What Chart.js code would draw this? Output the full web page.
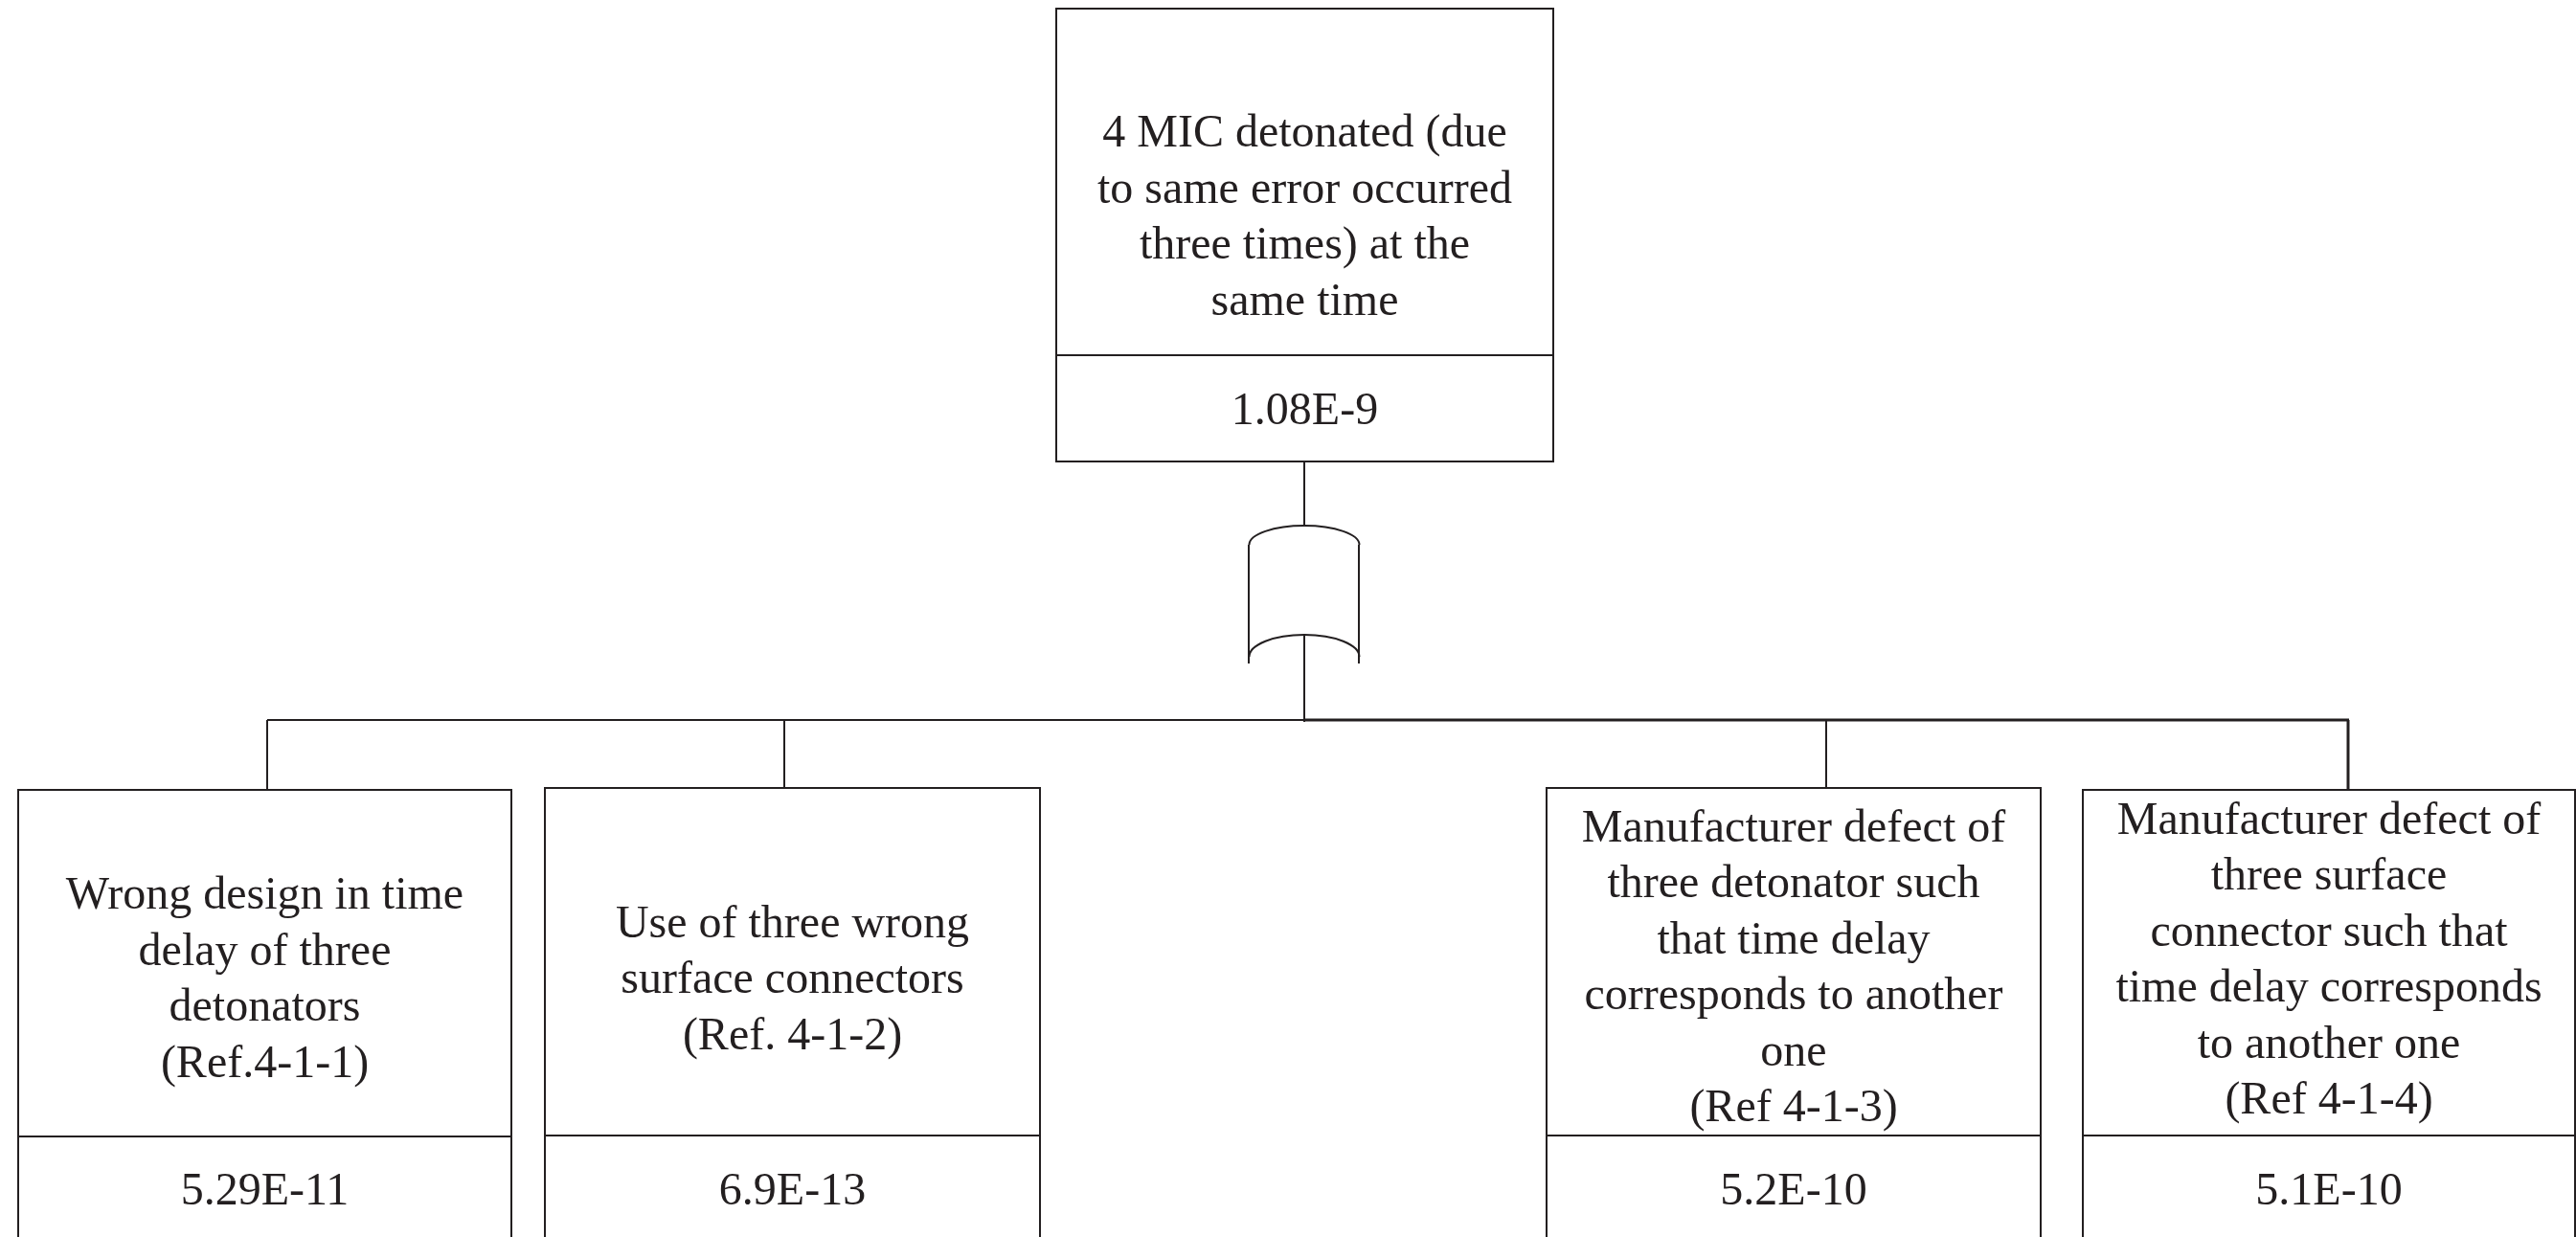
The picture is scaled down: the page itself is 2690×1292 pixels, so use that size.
<!DOCTYPE html>
<html>
<head>
<meta charset="utf-8">
<script src="https://cdn.jsdelivr.net/npm/chart.js@4/dist/chart.umd.min.js"></script>
<style>
  html, body { margin: 0; padding: 0; background: #fff; overflow: hidden; }
  canvas { display: block; }
  #probe { position: absolute; left: -9999px; top: 0; font: 48px "Liberation Serif"; }
</style>
</head>
<body>
<canvas id="tree" width="2690" height="1292"></canvas>
<span id="probe">Aa</span>
<script>
// fault tree data
const topEvent = ['4 MIC detonated (due', 'to same error occurred', 'three times) at the', 'same time'];
const topProb = '1.08E-9';
const basicEvents = [
  ['Wrong design in time', 'delay of three', 'detonators', '(Ref.4-1-1)'],
  ['Use of three wrong', 'surface connectors', '(Ref. 4-1-2)'],
  ['Manufacturer defect of', 'three detonator such', 'that time delay', 'corresponds to another', 'one', '(Ref 4-1-3)'],
  ['Manufacturer defect of', 'three surface', 'connector such that', 'time delay corresponds', 'to another one', '(Ref 4-1-4)']
];
const basicProbs = ['5.29E-11', '6.9E-13', '5.2E-10', '5.1E-10'];

// layout (in scale units = page pixels)
const topBox = { x0: 1103, x1: 1622, y0: 9, ySplit: 371, y1: 482, textMid: 241, probBase: 443 };
const gate = { cx: 1362, x0: 1304, x1: 1419, topPeak: 549, topSide: 569, botPeak: 663, botSide: 686, sideEnd: 693 };
const busY = 752;
const boxX0 = [19, 569, 1615, 2175];
const boxX1 = [534, 1086, 2131, 2689];
const boxY0 = [825, 823, 823, 825];
const boxSplit = [1187, 1186, 1186, 1186];
const dropX = [279, 819, 1907, 2452];
const textMid = [1037, 1037, 1025, 1017];
const probBase = 1258;
const lineH = 58.5;
const ink = '#231f20';
const font = '48px "Liberation Serif", "DejaVu Serif", serif';

const treePlugin = {
  id: 'faultTree',
  afterDraw(chart) {
    const { ctx, scales: { x, y } } = chart;
    const px = v => x.getPixelForValue(v);
    const py = v => y.getPixelForValue(v);
    ctx.save();
    ctx.strokeStyle = ink;
    ctx.fillStyle = ink;
    ctx.lineWidth = 2;

    function line(xa, ya, xb, yb, w) {
      ctx.lineWidth = w || 2;
      ctx.beginPath();
      ctx.moveTo(px(xa), py(ya));
      ctx.lineTo(px(xb), py(yb));
      ctx.stroke();
    }
    function box(x0, x1, y0, ySplit, y1) {
      ctx.lineWidth = 2;
      ctx.strokeRect(px(x0), py(y0), px(x1) - px(x0), py(y1) - py(y0));
      line(x0, ySplit, x1, ySplit);
    }
    function lines(arr, cx, mid) {
      ctx.font = font;
      ctx.textAlign = 'center';
      ctx.textBaseline = 'alphabetic';
      const start = mid - (arr.length - 1) * lineH / 2;
      arr.forEach((t, i) => ctx.fillText(t, px(cx), py(start + i * lineH)));
    }

    // top event
    box(topBox.x0, topBox.x1, topBox.y0, topBox.ySplit, topBox.y1);
    const tcx = (topBox.x0 + topBox.x1) / 2;
    lines(topEvent, tcx, topBox.textMid);
    lines([topProb], tcx, topBox.probBase);

    // OR gate
    line(gate.cx, topBox.y1, gate.cx, gate.topPeak);
    const rx = (gate.x1 - gate.x0) / 2;
    ctx.lineWidth = 2;
    ctx.beginPath();
    ctx.ellipse(px(gate.cx), py(gate.topSide), rx, py(gate.topSide) - py(gate.topPeak), 0, Math.PI, 2 * Math.PI);
    ctx.stroke();
    ctx.beginPath();
    ctx.ellipse(px(gate.cx), py(gate.botSide), rx, py(gate.botSide) - py(gate.botPeak), 0, Math.PI, 2 * Math.PI);
    ctx.stroke();
    line(gate.x0, gate.topSide, gate.x0, gate.sideEnd);
    line(gate.x1, gate.topSide, gate.x1, gate.sideEnd);
    line(gate.cx, gate.botPeak, gate.cx, busY + 2);

    // bus and drops
    line(dropX[0], busY, gate.cx, busY, 2);
    line(gate.cx, busY, dropX[3] + 1, busY, 3);
    dropX.forEach((dx, i) => line(dx, busY, dx, boxY0[i], i === 3 ? 3 : 2));

    // basic events
    basicEvents.forEach((ev, i) => {
      box(boxX0[i], boxX1[i], boxY0[i], boxSplit[i], 1300);
      const cx = (boxX0[i] + boxX1[i]) / 2;
      lines(ev, cx, textMid[i]);
      lines([basicProbs[i]], cx, probBase);
    });
    ctx.restore();
  }
};

function build() {
  new Chart(document.getElementById('tree'), {
    type: 'scatter',
    data: { datasets: [{ data: [], pointRadius: 0 }] },
    options: {
      responsive: false,
      animation: false,
      layout: { padding: 0 },
      plugins: { legend: { display: false }, tooltip: { enabled: false } },
      scales: {
        x: { type: 'linear', min: 0, max: 2690, display: false },
        y: { type: 'linear', min: 0, max: 1292, reverse: true, display: false }
      }
    },
    plugins: [treePlugin]
  });
}

if (document.fonts && document.fonts.load) {
  document.fonts.load(font).then(build, build);
} else {
  build();
}
</script>
</body>
</html>
